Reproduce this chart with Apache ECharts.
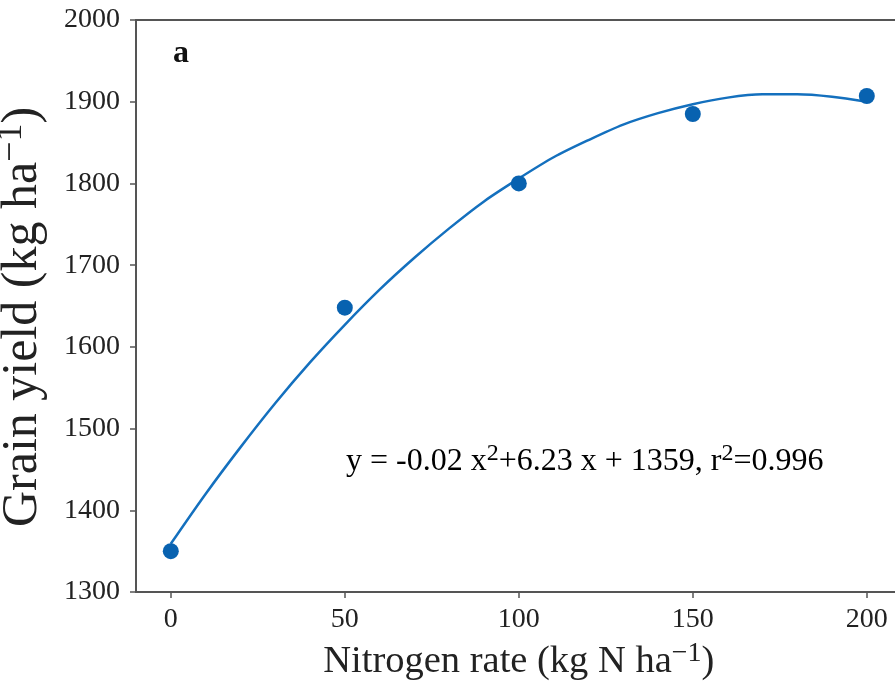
<!DOCTYPE html>
<html>
<head>
<meta charset="utf-8">
<script src="https://cdn.jsdelivr.net/npm/echarts@6/dist/echarts.min.js"></script>
<style>html,body{margin:0;padding:0;background:#fff;}#c{width:895px;height:686px;}</style>
</head>
<body>
<div id="c"></div>
<script>
// Observed data points (kg N ha-1, kg ha-1)
const nitrogenRates = [0, 50, 100, 150, 200];
const grainYield = [1350, 1648, 1800, 1885, 1907];
// Fitted curve at sample N rates
const curveRates = [0, 10, 20, 30, 40, 50, 60, 70, 80, 90, 100, 110, 120, 130, 140, 150, 160, 170, 180, 190, 200];
const curveYield = [1359, 1420, 1477, 1531, 1581, 1627, 1670, 1709, 1745, 1778, 1806, 1832, 1853, 1872, 1886, 1897, 1905, 1909, 1909, 1906, 1900];
const xTicks = [0, 50, 100, 150, 200];
const yTicks = [1300, 1400, 1500, 1600, 1700, 1800, 1900, 2000];

const FONT = 'Liberation Serif';
const axisColor = '#555';
const chart = echarts.init(document.getElementById('c'));
chart.setOption({
  animation: false,
  backgroundColor: '#fff',
  grid: { left: 136, top: 20, width: 765.6, height: 572, outerBoundsMode: 'none', containLabel: false, show: true, borderColor: axisColor, borderWidth: 2, backgroundColor: 'transparent' },
  xAxis: {
    type: 'value', min: -10, max: 210,
    axisLine: { show: true, onZero: false, lineStyle: { color: axisColor, width: 2 } },
    axisTick: { show: true, length: 6, customValues: xTicks, lineStyle: { color: axisColor, width: 1.5 } },
    axisLabel: { customValues: xTicks, color: '#222', fontFamily: FONT, fontSize: 28, margin: 14 },
    splitLine: { show: false },
    name: '{n|Nitrogen rate (kg N ha}{s|−1}{n|)}',
    nameLocation: 'middle', nameGap: 48,
    nameTextStyle: { rich: { n: { fontFamily: FONT, fontSize: 38.5, color: '#222' }, s: { fontFamily: FONT, fontSize: 28, color: '#222', padding: [0, 0, 16, 0] } } }
  },
  yAxis: {
    type: 'value', min: 1300, max: 2000, interval: 100,
    axisLine: { show: true, onZero: false, lineStyle: { color: axisColor, width: 2 } },
    axisTick: { show: true, length: 6, customValues: yTicks, lineStyle: { color: axisColor, width: 1.5 } },
    axisLabel: { customValues: yTicks, formatter: v => String(v), color: '#222', fontFamily: FONT, fontSize: 28, margin: 16 },
    splitLine: { show: false },
    name: '{n|Grain yield (kg ha}{s|−1}{n|)}',
    nameLocation: 'middle', nameGap: 84,
    nameTextStyle: { padding: [0, 22, 0, 0], rich: { n: { fontFamily: FONT, fontSize: 50, color: '#222' }, s: { fontFamily: FONT, fontSize: 36, color: '#222', padding: [0, 0, 22, 0] } } }
  },
  series: [
    {
      type: 'line', data: curveRates.map((x, i) => [x, curveYield[i]]),
      smooth: 0.3, showSymbol: false, lineStyle: { color: '#1470be', width: 2.5 }, z: 2
    },
    {
      type: 'scatter', data: nitrogenRates.map((x, i) => [x, grainYield[i]]),
      symbolSize: 16, itemStyle: { color: '#0862b0', opacity: 1 }, z: 3
    }
  ],
  graphic: [
    { type: 'text', left: 173, top: 38, style: { text: 'a', fontFamily: FONT, fontSize: 32, fontWeight: 'bold', fill: '#111' } },
    { type: 'text', left: 346, top: 442, style: {
      text: '{n|y = -0.02 x}{s|2}{n|+6.23 x + 1359, r}{s|2}{n|=0.996}',
      rich: { n: { fontFamily: FONT, fontSize: 32, color: '#222' }, s: { fontFamily: FONT, fontSize: 24, color: '#222', padding: [0, 0, 15, 0] } }
    } }
  ]
});
</script>
</body>
</html>
